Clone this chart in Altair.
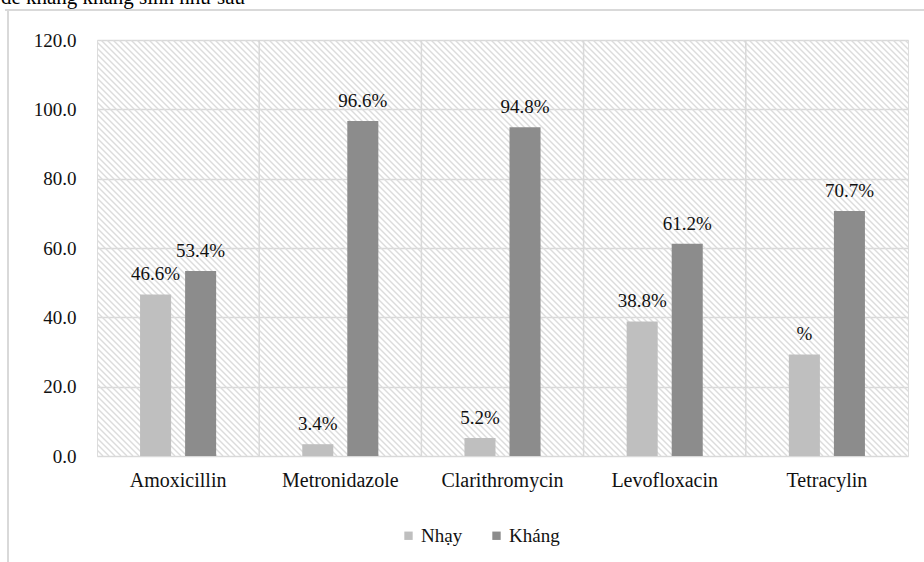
import altair as alt
import pandas as pd

categories = ["Amoxicillin", "Metronidazole", "Clarithromycin", "Levofloxacin", "Tetracylin"]
series = ["Nhạy", "Kháng"]
nhay = [46.6, 3.4, 5.2, 38.8, 29.3]
khang = [53.4, 96.6, 94.8, 61.2, 70.7]
nhay_labels = ["46.6%", "3.4%", "5.2%", "38.8%", "%"]
khang_labels = ["53.4%", "96.6%", "94.8%", "61.2%", "70.7%"]
y_ticks = [0, 20, 40, 60, 80, 100, 120]
colors = ["#bfbfbf", "#8c8c8c"]

W, H = 811, 416
FONT = "'Times New Roman', 'Liberation Serif', serif"

rows = []
for c, v, l in zip(categories, nhay, nhay_labels):
    rows.append({"cat": c, "s": "Nhạy", "v": v, "lab": l})
for c, v, l in zip(categories, khang, khang_labels):
    rows.append({"cat": c, "s": "Kháng", "v": v, "lab": l})
df = pd.DataFrame(rows)

xscale = alt.Scale(domain=categories, paddingInner=0, paddingOuter=0)
yscale = alt.Scale(domain=[0, 120])
offscale = alt.Scale(domain=series, paddingInner=0.311, paddingOuter=0.956)

xaxis = alt.Axis(labelAngle=0, labelFont=FONT, labelFontSize=20, labelColor="#111111",
                 ticks=False, domain=False, grid=False, labelPadding=14, title=None)
yaxis = alt.Axis(values=y_ticks, format=".1f", labelFont=FONT, labelFontSize=19,
                 labelColor="#111111", ticks=False, domain=False, gridColor="#d9d9d9",
                 gridWidth=1.5, labelPadding=21, title=None)

# background hatch (decoration)
hatch = alt.Chart(alt.sequence(start=-H, stop=W, step=6, as_="h")).transform_calculate(
    hx2=f"datum.h + {H}", hy0="0", hy1=f"{H}"
).mark_rule(color="#dcdcdc", strokeWidth=1.4, clip=True).encode(
    x=alt.X("h:Q", scale=None, axis=None),
    x2="hx2:Q",
    y=alt.Y("hy0:Q", scale=None, axis=None),
    y2="hy1:Q",
)

base = alt.Chart(df)

vgrid = alt.Chart(pd.DataFrame({"cat": categories[1:]})).mark_rule(
    color="#d9d9d9", strokeWidth=1.5
).encode(
    x=alt.X("cat:N", scale=xscale, sort=categories, bandPosition=0, axis=xaxis),
    y=alt.value(0),
    y2=alt.value(H),
)

bars = base.mark_bar().encode(
    x=alt.X("cat:N", scale=xscale, sort=categories, axis=xaxis),
    xOffset=alt.XOffset("s:N", scale=offscale, sort=series),
    y=alt.Y("v:Q", scale=yscale, axis=yaxis),
    color=alt.Color("s:N", scale=alt.Scale(domain=series, range=colors), sort=series,
                    legend=alt.Legend(title=None, orient="none", direction="horizontal",
                                      legendX=302, legendY=486, symbolType="square",
                                      symbolSize=70, symbolStrokeWidth=0,
                                      labelFont=FONT, labelFontSize=19,
                                      labelColor="#111111", labelOffset=3,
                                      columnPadding=24)),
)

labels = base.mark_text(font=FONT, fontSize=19, color="#111111", baseline="alphabetic", dy=-14).encode(
    x=alt.X("cat:N", scale=xscale, sort=categories, axis=xaxis),
    xOffset=alt.XOffset("s:N", scale=offscale, sort=series),
    y=alt.Y("v:Q", scale=yscale, axis=yaxis),
    text="lab:N",
)

frame = alt.Chart(pd.DataFrame({"k": [0]})).mark_rule(color="#d9d9d9", strokeWidth=2).encode(
    x=alt.value(-89), x2=alt.value(-89 + 0.01), y=alt.value(-30), y2=alt.value(H + 106)
)
frame_top = alt.Chart(pd.DataFrame({"k": [0]})).mark_rule(color="#d9d9d9", strokeWidth=2).encode(
    x=alt.value(-92), x2=alt.value(W + 16), y=alt.value(-30)
)
doc_text = alt.Chart(pd.DataFrame({"t": ["ghi nhận đề kháng kháng sinh như sau"]})).mark_text(
    font=FONT, fontSize=21, color="#000000", align="right", baseline="alphabetic"
).encode(x=alt.value(148), y=alt.value(-36), text="t:N")

inner = alt.layer(vgrid, bars, labels, frame, frame_top, doc_text)

chart = alt.layer(hatch, inner).resolve_scale(x="independent", y="independent").properties(
    width=W, height=H,
    autosize=alt.AutoSizeParams(type="none"),
    padding={"left": 97, "top": 40, "right": 16, "bottom": 106},
).configure_view(stroke="#d9d9d9", strokeWidth=1.5).configure(background="white")

chart.save("out.html", embed_options={"renderer": "svg", "actions": False})
